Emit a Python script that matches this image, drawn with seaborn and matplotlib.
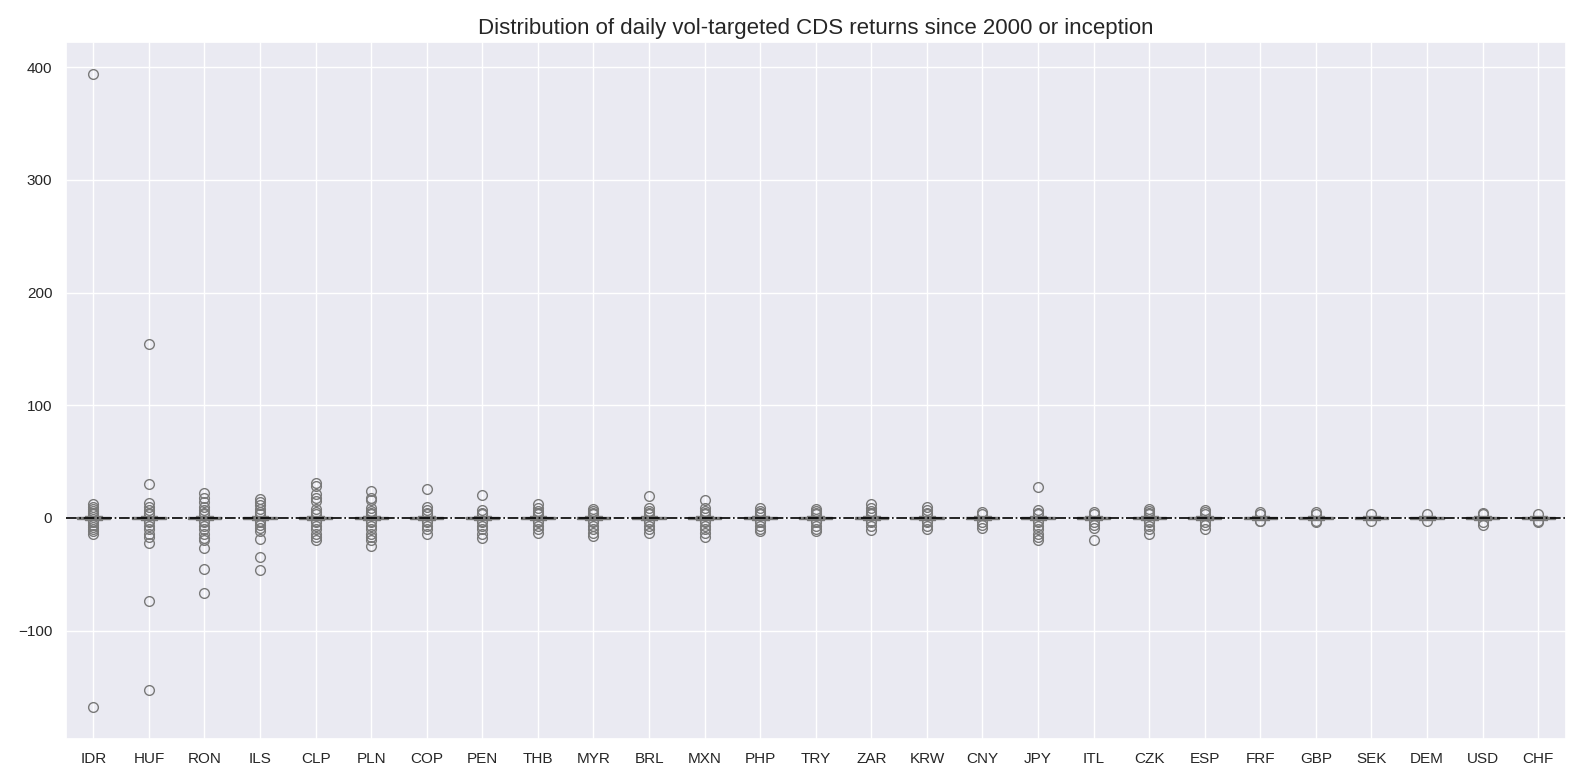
import pandas as pd
import matplotlib.pyplot as plt
import seaborn as sns

# Currencies in plotted order
categories = ["IDR", "HUF", "RON", "ILS", "CLP", "PLN", "COP", "PEN", "THB", "MYR",
              "BRL", "MXN", "PHP", "TRY", "ZAR", "KRW", "CNY", "JPY", "ITL", "CZK",
              "ESP", "FRF", "GBP", "SEK", "DEM", "USD", "CHF"]

# central mass of daily returns (tight box around zero, most days)
core = [-1.5, -1.0, -0.6, -0.4, -0.2, 0.0, 0.2, 0.4, 0.6, 1.0, 1.5]
core_repeats = 40

# visible outlying points per currency (approximate)
outliers = {
    "IDR": [394, 12, 10, 8, 6, 4, 3, -3, -4, -6, -8, -10, -12, -14, -168],
    "HUF": [154, 30, 13, 10, 7, 4, 3, -3, -4, -7, -10, -14, -17, -22, -74, -153],
    "RON": [22, 18, 14, 10, 7, 4, 3, -3, -4, -7, -10, -14, -18, -20, -27, -45, -67],
    "ILS": [17, 14, 11, 8, 5, 3, -3, -4, -6, -9, -12, -19, -35, -46],
    "CLP": [31, 28, 21, 18, 15, 8, 5, 3, -3, -4, -7, -10, -14, -17, -20],
    "PLN": [24, 18, 16, 9, 6, 4, 3, -3, -4, -7, -10, -14, -17, -20, -25],
    "COP": [26, 10, 7, 4, 3, -3, -4, -7, -10, -14],
    "PEN": [20, 7, 4, 3, -3, -4, -7, -10, -14, -18],
    "THB": [12, 9, 6, 4, 3, -3, -4, -7, -10, -13],
    "MYR": [8, 6, 4, 3, -3, -4, -7, -10, -13, -16],
    "BRL": [19, 9, 6, 4, 3, -3, -4, -7, -10, -13],
    "MXN": [16, 9, 6, 4, 3, -3, -4, -7, -10, -13, -17],
    "PHP": [9, 6, 4, 3, -3, -4, -7, -10, -12],
    "TRY": [8, 6, 4, 3, -3, -4, -7, -10, -12],
    "ZAR": [12, 9, 6, 4, 3, -3, -4, -7, -11],
    "KRW": [10, 7, 4, 3, -3, -4, -7, -10],
    "CNY": [5, 3.5, -3.5, -6, -9],
    "JPY": [27, 7, 4, 3, -3, -4, -7, -10, -14, -17, -20],
    "ITL": [5, 3.5, -3.5, -6, -9, -20],
    "CZK": [8, 6, 4, 3, -3, -4, -7, -10, -14],
    "ESP": [7, 5, 3.5, -3.5, -6, -10],
    "FRF": [5, 3.5, -3, -3],
    "GBP": [5, 3.5, -3, -4],
    "SEK": [3, -3],
    "DEM": [3, -3],
    "USD": [4, 3, -3.5, -6],
    "CHF": [3, -3, -4],
}

rows = []
for cur in categories:
    for v in core * core_repeats + outliers[cur]:
        rows.append((cur, v))
df = pd.DataFrame(rows, columns=["currency", "ret"])

sns.set_theme(style="darkgrid", font="Liberation Sans")
fig, ax = plt.subplots(figsize=(15.84, 7.84), dpi=100)
sns.boxplot(data=df, x="currency", y="ret", order=categories, color="lightblue",
            linecolor="gray", width=0.6, flierprops=dict(markersize=7), ax=ax)
ax.axhline(0, color="black", linestyle="-.", linewidth=1.2, zorder=5)
ax.grid(True, axis="x", color="white")
ax.set_title("Distribution of daily vol-targeted CDS returns since 2000 or inception", fontsize=16)
ax.set_xlabel("")
ax.set_ylabel("")
plt.tight_layout()
plt.savefig("out.png", dpi=100)
